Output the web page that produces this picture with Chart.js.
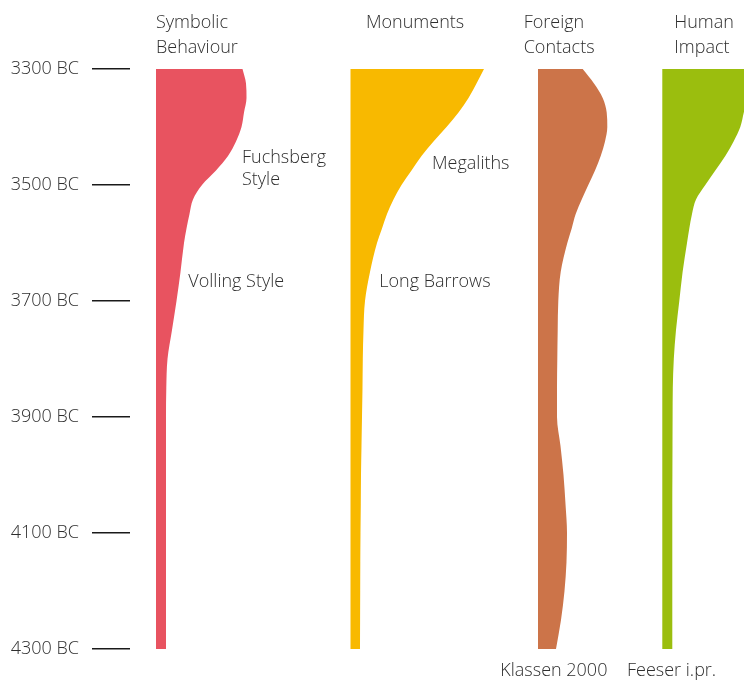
<!DOCTYPE html>
<html>
<head>
<meta charset="utf-8">
<script src="https://cdn.jsdelivr.net/npm/chart.js@4/dist/chart.umd.min.js"></script>
<style>
  body { margin: 0; background: #fff; }
  #wrap { width: 744px; height: 682px; position: relative; }
</style>
</head>
<body>
<div id="wrap"><canvas id="chart"></canvas></div>
<script>
// years BC, top (3300) to bottom (4300)
const years = [3300, 3325, 3350, 3375, 3400, 3425, 3450, 3475, 3500, 3525, 3550, 3575, 3600,
  3650, 3700, 3750, 3800, 3850, 3900, 3950, 4000, 4050, 4100, 4150, 4200, 4250, 4300];

// relative intensity (width of each shape) per year
const symbolic = [86.5, 90, 90.5, 88, 85.5, 80, 72, 60, 46, 37, 33.5, 30.5, 28,
  24.5, 20.5, 16, 11.5, 10.3, 10, 10, 10, 10, 10, 10, 10, 10, 10];
const monuments = [133.5, 126, 118, 108, 96, 83, 71, 61, 51, 43, 36.5, 31.5, 26.5,
  19.5, 14.5, 13, 12.3, 12, 11.5, 11, 10.5, 10.3, 10, 9.8, 9.7, 9.6, 9.5];
const foreign = [44.7, 56, 64.7, 68.7, 69.3, 67, 62.7, 57, 50.3, 43.7, 37.7, 33.7, 29.3,
  22.7, 20.3, 19.7, 19.3, 19, 19, 22.5, 25.5, 27.5, 29, 28.5, 26.5, 23, 18];
const human = [84, 86, 85, 81.5, 78, 71.3, 63, 53, 43, 33.7, 29.7, 27, 24.7,
  20.3, 17, 13.7, 11.5, 10.5, 10.3, 10.2, 10.1, 10, 10, 10, 10, 10, 10];

const tickYears = [3300, 3500, 3700, 3900, 4100, 4300];

// layout: where each column starts on the x scale, and its colour
const columnBase = [26, 220.5, 408, 532.3];
const colors = ["#E85360", "#F8B900", "#CC7449", "#9BBE0E"];
const series = [symbolic, monuments, foreign, human];

const FONT = '"Open Sans", "Liberation Sans", sans-serif';
const TEXT = "#2e2e2e";

// text labels: [text, x value, y pixel or year]
const headers = [
  ["Symbolic", 26, 28], ["Behaviour", 26, 53],
  ["Monuments", 236, 28],
  ["Foreign", 393.7, 28], ["Contacts", 393.7, 53],
  ["Human", 544.3, 28], ["Impact", 544.3, 53],
  ["Klassen 2000", 370.3, 676], ["Feeser i.pr.", 497, 676]
];
const notes = [
  ["Fuchsberg", 112, 3462], ["Style", 112, 3500],
  ["Volling Style", 58.3, 3676],
  ["Megaliths", 302, 3472],
  ["Long Barrows", 249.3, 3676]
];

const datasets = series.map((vals, i) => ({
  data: vals.map((v, k) => ({ x: columnBase[i] + v, y: years[k] })),
  backgroundColor: colors[i],
  borderWidth: 0,
  pointRadius: 0,
  cubicInterpolationMode: "monotone",
  fill: { value: columnBase[i] }
}));

const textPlugin = {
  id: "texts",
  afterDraw(chart) {
    const ctx = chart.ctx;
    const xs = chart.scales.x, ys = chart.scales.y;
    ctx.save();
    ctx.font = "300 18px " + FONT;
    ctx.fillStyle = TEXT;
    ctx.textAlign = "left";
    ctx.textBaseline = "alphabetic";
    headers.forEach(([t, x, y]) => ctx.fillText(t, xs.getPixelForValue(x), y));
    notes.forEach(([t, x, yr]) => ctx.fillText(t, xs.getPixelForValue(x), ys.getPixelForValue(yr)));
    ctx.restore();
  }
};

new Chart(document.getElementById("chart"), {
  type: "line",
  data: { datasets },
  plugins: [textPlugin],
  options: {
    indexAxis: "y",
    responsive: true,
    maintainAspectRatio: false,
    animation: false,
    layout: { padding: { top: 69, bottom: 33, left: 0, right: 0 } },
    plugins: { legend: { display: false }, tooltip: { enabled: false } },
    scales: {
      x: { type: "linear", min: 0, max: 614, display: false },
      y: {
        type: "linear",
        min: 3300,
        max: 4300,
        reverse: true,
        afterFit(scale) { scale.width = 130; },
        afterBuildTicks(scale) { scale.ticks = tickYears.map(v => ({ value: v })); },
        border: { display: false },
        grid: { drawOnChartArea: false, drawTicks: true, tickLength: 38, color: "#1a1a1a", lineWidth: 1.5 },
        ticks: {
          padding: 13,
          color: TEXT,
          font: { family: FONT, size: 18, weight: 300 },
          callback: v => v + " BC"
        }
      }
    }
  }
});
</script>
</body>
</html>
